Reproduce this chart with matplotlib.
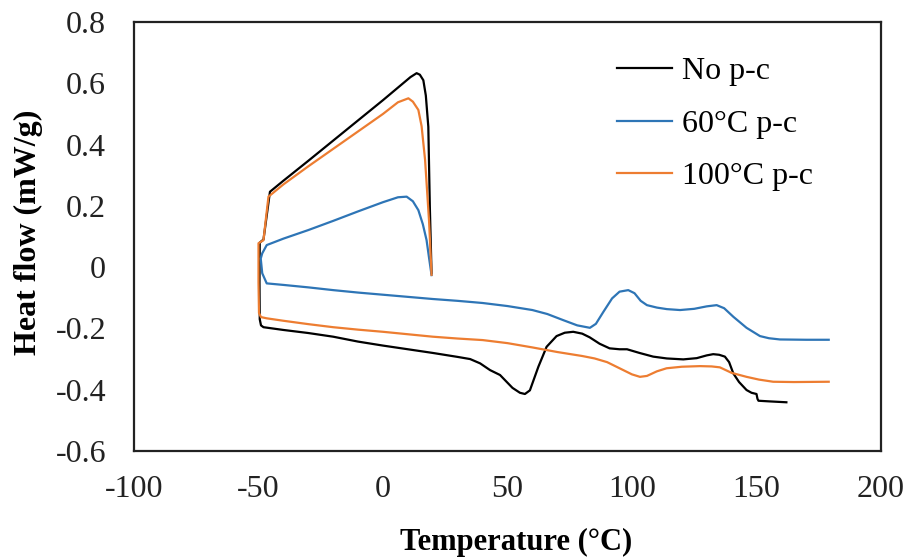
import matplotlib
matplotlib.use("Agg")
import matplotlib.pyplot as plt
from matplotlib.ticker import FuncFormatter

plt.rcParams['font.family'] = ['Liberation Serif', 'DejaVu Serif']
plt.rcParams['axes.unicode_minus'] = False

# ---- data (temperature in °C, heat flow in mW/g) ----
no_pc_T = [19.5, 18.8, 18.2, 17.2, 16.2, 14.8, 13.5, 11, 0, -10, -20, -30, -40, -45.4,
           -46.5, -48, -49.5, -49.6, -49.5, -49, -48, -40, -30, -20, -10, 0, 10, 20, 30,
           35, 39, 43, 47, 52, 55, 57, 59, 62.4, 65.7, 69.7, 73, 76.4, 80, 83, 87, 91,
           95, 98, 103, 108.5, 114, 120.6, 126, 130, 132.6, 135, 137.3, 139, 140.7,
           143, 146, 148, 150, 150.4, 150.8, 155, 162]
no_pc_HF = [-0.02, 0.2, 0.458, 0.56, 0.61, 0.628, 0.633, 0.62, 0.545, 0.479, 0.413, 0.347,
            0.282, 0.246, 0.18, 0.09, 0.08, -0.05, -0.17, -0.19, -0.196, -0.205, -0.215,
            -0.227, -0.243, -0.256, -0.268, -0.28, -0.293, -0.3, -0.314, -0.336, -0.352,
            -0.394, -0.41, -0.414, -0.402, -0.325, -0.26, -0.225, -0.214, -0.211, -0.217,
            -0.229, -0.25, -0.265, -0.268, -0.268, -0.28, -0.292, -0.298, -0.301, -0.297,
            -0.288, -0.284, -0.286, -0.292, -0.31, -0.347, -0.375, -0.401, -0.41, -0.414,
            -0.43, -0.436, -0.438, -0.441]

pc60_T = [19.5, 18.5, 17.5, 16, 14.2, 12, 9.5, 6, 0, -10, -20, -30, -40, -46.7, -48.5,
          -49.1, -48.5, -46.7, -40, -30, -20, -10, 0, 10, 20, 30, 40, 50, 60, 66, 72.4,
          78, 83.1, 85.5, 88.5, 92, 95, 98.5, 101, 103.5, 106, 110, 114, 119.3, 125,
          130, 134, 137, 140.7, 146, 151.4, 155, 159.4, 170, 179]
pc60_HF = [-0.026, 0.03, 0.088, 0.14, 0.186, 0.215, 0.23, 0.228, 0.212, 0.182, 0.151,
           0.121, 0.093, 0.072, 0.045, 0.028, -0.02, -0.053, -0.058, -0.066, -0.075, -0.083,
           -0.09, -0.097, -0.104, -0.11, -0.117, -0.127, -0.14, -0.153, -0.173, -0.19,
           -0.198, -0.185, -0.146, -0.102, -0.08, -0.075, -0.085, -0.11, -0.124, -0.132,
           -0.137, -0.14, -0.136, -0.128, -0.124, -0.134, -0.162, -0.198, -0.225, -0.232,
           -0.236, -0.237, -0.237]

pc100_T = [19.5, 18.5, 16.9, 15.5, 14.2, 12, 10.2, 6, 0, -10, -20, -30, -40, -46, -47,
           -48, -50, -50, -49.8, -49, -46.7, -40, -30, -20, -10, 0, 10, 20, 30, 40, 50,
           60, 70, 80, 85, 90, 95, 100, 103.2, 106, 110, 113.9, 120, 127.3, 132, 135.3,
           140, 146, 151, 156.7, 165, 179]
pc100_HF = [-0.025, 0.15, 0.35, 0.46, 0.513, 0.54, 0.551, 0.538, 0.5, 0.443, 0.386,
            0.329, 0.27, 0.23, 0.16, 0.088, 0.078, -0.05, -0.15, -0.163, -0.167, -0.175,
            -0.186, -0.196, -0.204, -0.211, -0.219, -0.227, -0.233, -0.238, -0.248,
            -0.262, -0.277, -0.29, -0.298, -0.31, -0.33, -0.35, -0.358, -0.355, -0.34,
            -0.33, -0.325, -0.323, -0.324, -0.327, -0.345, -0.358, -0.367, -0.374,
            -0.375, -0.374]

series_labels = ["No p-c", "60°C p-c", "100°C p-c"]
series_colors = ["#000000", "#2E75B6", "#ED7D31"]

x_ticks = [-100, -50, 0, 50, 100, 150, 200]
y_ticks = [-0.6, -0.4, -0.2, 0, 0.2, 0.4, 0.6, 0.8]

# ---- figure ----
W, H = 909, 560
fig = plt.figure(figsize=(W / 100, H / 100), dpi=100)
left, right, top, bottom = 134, 881, 22, 451
ax = fig.add_axes([left / W, 1 - bottom / H, (right - left) / W, (bottom - top) / H])

for T, HF, lab, col in zip([no_pc_T, pc60_T, pc100_T], [no_pc_HF, pc60_HF, pc100_HF],
                           series_labels, series_colors):
    ax.plot(T, HF, color=col, lw=1.6, label=lab, solid_joinstyle='round')

ax.set_xlim(-100, 200)
ax.set_ylim(-0.6, 0.8)
ax.set_xticks(x_ticks)
ax.set_yticks(y_ticks)
ax.yaxis.set_major_formatter(FuncFormatter(lambda v, p: f"{round(v, 1):g}"))
ax.tick_params(axis='both', length=0, labelsize=23, colors='#222222')
ax.tick_params(axis='y', pad=20)
ax.tick_params(axis='x', pad=17.5)
for s in ax.spines.values():
    s.set_linewidth(1.6)
    s.set_color('#222222')

aw, ah = right - left, bottom - top
ax.set_xlabel("Temperature (°C)", fontsize=22, fontweight='bold', va='center', ha='center')
ax.xaxis.set_label_coords((516 - left) / aw, (bottom - 542) / ah)
ax.set_ylabel("Heat flow (mW/g)", fontsize=23, fontweight='bold', va='center', ha='center')
ax.yaxis.set_label_coords((28 - left) / aw, (bottom - 232) / ah)

ax.legend(loc='upper left', bbox_to_anchor=(617 / W, 1 - 57 / H),
          bbox_transform=fig.transFigure, frameon=False, fontsize=23,
          handlelength=1.72, handletextpad=0.3, labelspacing=0.72,
          borderpad=0, borderaxespad=0)

fig.savefig("out.png", dpi=100)
